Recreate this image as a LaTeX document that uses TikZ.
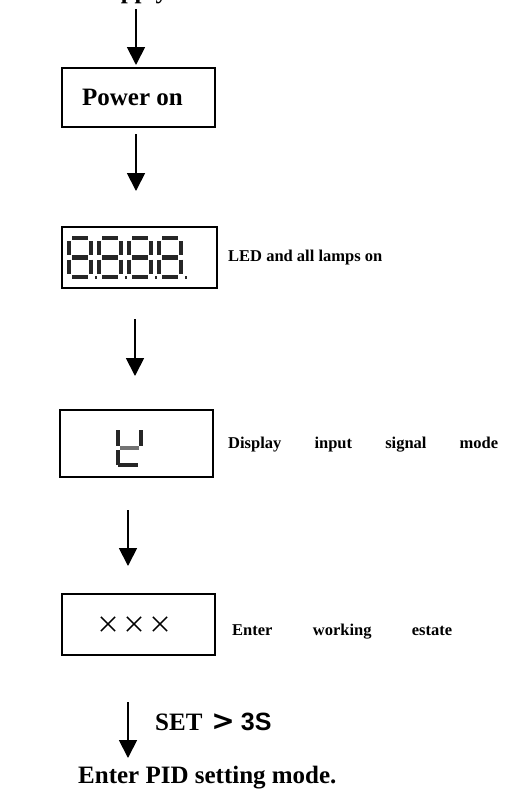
\documentclass[tikz,border=0pt]{standalone}
\usepackage{fontspec}
\setmainfont{Liberation Serif}
\newfontfamily\cjk{Noto Sans CJK SC}
\newfontfamily\sansb{Liberation Sans}
\newfontfamily\dejavu{DejaVu Sans}
\usetikzlibrary{arrows.meta}
\tikzset{
  flowbox/.style={draw, line width=1.8pt, inner sep=0pt},
  flowarrow/.style={line width=1.8pt, -{Triangle[width=18pt,length=18pt]}},
  seg/.style={line width=4.6pt, draw=black!85},
  bigtxt/.style={font=\fontsize{25}{28}\selectfont\bfseries, inner sep=0pt},
  smalltxt/.style={font=\fontsize{16.5}{19}\selectfont\bfseries, inner sep=0pt},
  crosstxt/.style={font=\cjk\fontsize{24}{26}\selectfont, inner sep=0pt},
  eightdigit/.pic={
    \draw[seg] (3,0) -- (19,0);
    \draw[seg] (22,3) -- (22,16.5);
    \draw[seg] (22,21.5) -- (22,36);
    \draw[seg] (3,39) -- (19,39);
    \draw[seg] (0,21.5) -- (0,36);
    \draw[seg] (0,3) -- (0,16.5);
    \draw[seg] (3,19.5) -- (19,19.5);
    \fill[black!85] (25.5,38) rectangle ++(2.8,2.8);
  }
}
\begin{document}
\begin{tikzpicture}[x=1pt,y=-1pt]
\useasboundingbox (0,0) rectangle (515,796);

% top label (cut off by the picture's top edge, as in the reference)
\node[bigtxt, anchor=base] (supply) at (130.5,-2) {Supply};

% boxes
\node[flowbox, minimum width=153pt, minimum height=59pt] (pwr) at (138.5,97.5) {};
\node[bigtxt] (pwrtxt) at (132.5,97) {Power on};

\node[flowbox, minimum width=155pt, minimum height=61pt] (led) at (139.5,257.5) {};
\pic at (69,238) {eightdigit};
\pic at (99,238) {eightdigit};
\pic at (129,238) {eightdigit};
\pic at (159,238) {eightdigit};
\node[smalltxt, anchor=west] (ledtxt) at (228,258) {LED and all lamps on};

\node[flowbox, minimum width=153pt, minimum height=67pt] (disp) at (136.5,443.5) {};
\draw[seg] (118,430) -- (118,446);
\draw[seg] (141,430) -- (141,446);
\draw[seg, draw=black!55] (120,448) -- (139,448);
\draw[seg] (118,450) -- (118,465);
\draw[seg] (118,465) -- (138,465);
\node[smalltxt, anchor=west] (disptxt) at (228,445) {\hbox to 270pt{Display\hfill input\hfill signal\hfill mode}};

\node[flowbox, minimum width=153pt, minimum height=61pt] (work) at (138.5,624.5) {};
\node[crosstxt] (x1) at (108,625) {×};
\node[crosstxt] (x2) at (134,625) {×};
\node[crosstxt] (x3) at (160,625) {×};
\node[smalltxt, anchor=west] (worktxt) at (232,632) {\hbox to 220pt{Enter\hfill working\hfill estate}};

% arrows
\coordinate (a1s) at (136,9);   \coordinate (a1e) at (136,65);
\coordinate (a2s) at (136,134); \coordinate (a2e) at (136,191);
\coordinate (a3s) at (135,319); \coordinate (a3e) at (135,376);
\coordinate (a4s) at (128,510); \coordinate (a4e) at (128,566);
\coordinate (a5s) at (128,702); \coordinate (a5e) at (128,758);
\draw[flowarrow] (a1s) -- (a1e);
\draw[flowarrow] (a2s) -- (a2e);
\draw[flowarrow] (a3s) -- (a3e);
\draw[flowarrow] (a4s) -- (a4e);
\draw[flowarrow] (a5s) -- (a5e);

\node[bigtxt, anchor=base west] (setlbl) at (155,730) {SET\hspace{9pt}{\dejavu\bfseries\fontsize{28}{30}\selectfont >}\hspace{6pt}{\sansb\bfseries 3S}};
\node[bigtxt, anchor=base west] (pidtxt) at (78,783) {Enter PID setting mode.};
\end{tikzpicture}
\end{document}
